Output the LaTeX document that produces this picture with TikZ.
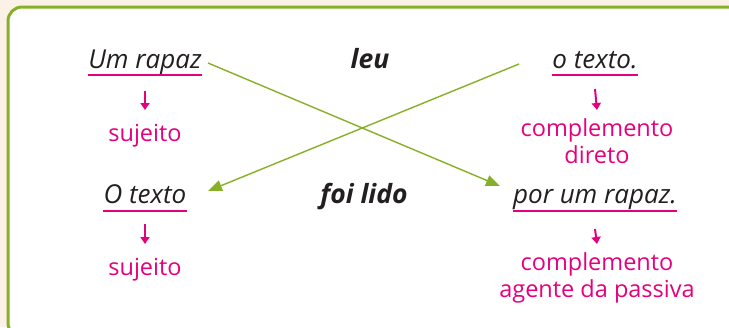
\documentclass[tikz,border=0pt]{standalone}
\usepackage{fontspec}
\setmainfont{Open Sans}
\usetikzlibrary{arrows.meta}
\definecolor{bg}{HTML}{FCF1E6}
\definecolor{grn}{HTML}{86B027}
\definecolor{mag}{HTML}{E5007E}
\definecolor{ink}{HTML}{231F20}
\begin{document}
\begin{tikzpicture}[x=1pt,y=-1pt,
 word/.style={font=\fontsize{26}{30}\selectfont\itshape, text=ink, inner sep=0pt, anchor=base},
 verb/.style={font=\fontsize{26.5}{30}\selectfont\itshape\bfseries, text=ink, inner sep=0pt, anchor=base},
 lab/.style={font=\fontsize{23.5}{26.5}\selectfont, text=mag, inner sep=0pt, anchor=base, align=center},
 ul/.style={draw=mag, line width=1.5pt},
 darr/.style={draw=mag, line width=2pt, -{Triangle[length=7pt,width=9pt]}},
 conn/.style={draw=grn, line width=1.4pt, -{Triangle[length=14pt,width=11pt]}}]
\fill[bg] (0,0) rectangle (729,327);
\useasboundingbox (0,0) rectangle (729,327);
\begin{scope}
\clip (0,0) rectangle (729,327);
\draw[grn, line width=3pt, fill=white, rounded corners=14pt] (8,7) rectangle (745,337);
\end{scope}
% top row
\node[word] (a) at (145,68) {Um rapaz};
\node[verb] (leu) at (370,68) {leu};
\node[word] (o) at (595,68) {o texto.};
% bottom row
\node[word] (b) at (145,203) {O texto};
\node[verb] (foi) at (364,203) {foi lido};
\node[word] (p) at (595,203) {por um rapaz.};
% labels
\node[lab] (s1) at (145,141) {sujeito};
\node[lab] (cd) at (597,163) {complemento\\direto};
\node[lab] (s2) at (145,275) {sujeito};
\node[lab] (ca) at (597,297) {complemento\\agente da passiva};
% underlines
\draw[ul] ([yshift=-7pt]a.base west) -- ([yshift=-7pt]a.base east);
\draw[ul] ([yshift=-7pt]o.base west) -- ([yshift=-7pt]o.base east);
\draw[ul] ([yshift=-8pt]b.base west) -- ([yshift=-8pt]b.base east);
\draw[ul] ([yshift=-8pt]p.base west) -- ([yshift=-8pt]p.base east);
% down arrows
\draw[darr] ([yshift=-23pt]a.base) -- ([yshift=31pt]s1.base);
\draw[darr] ([yshift=-21pt]o.base) -- ([yshift=53pt]cd.base);
\draw[darr] ([yshift=-21pt]b.base) -- ([yshift=31pt]s2.base);
\draw[darr] ([yshift=-26pt]p.base) -- ([yshift=53pt]ca.base);
% crossing connectors
\coordinate (c1s) at (208,63);
\coordinate (c1e) at (500,186);
\coordinate (c2s) at (519,64);
\coordinate (c2e) at (208,191);
\draw[conn] (c1s) -- (c1e);
\draw[conn] (c2s) -- (c2e);
\end{tikzpicture}
\end{document}
